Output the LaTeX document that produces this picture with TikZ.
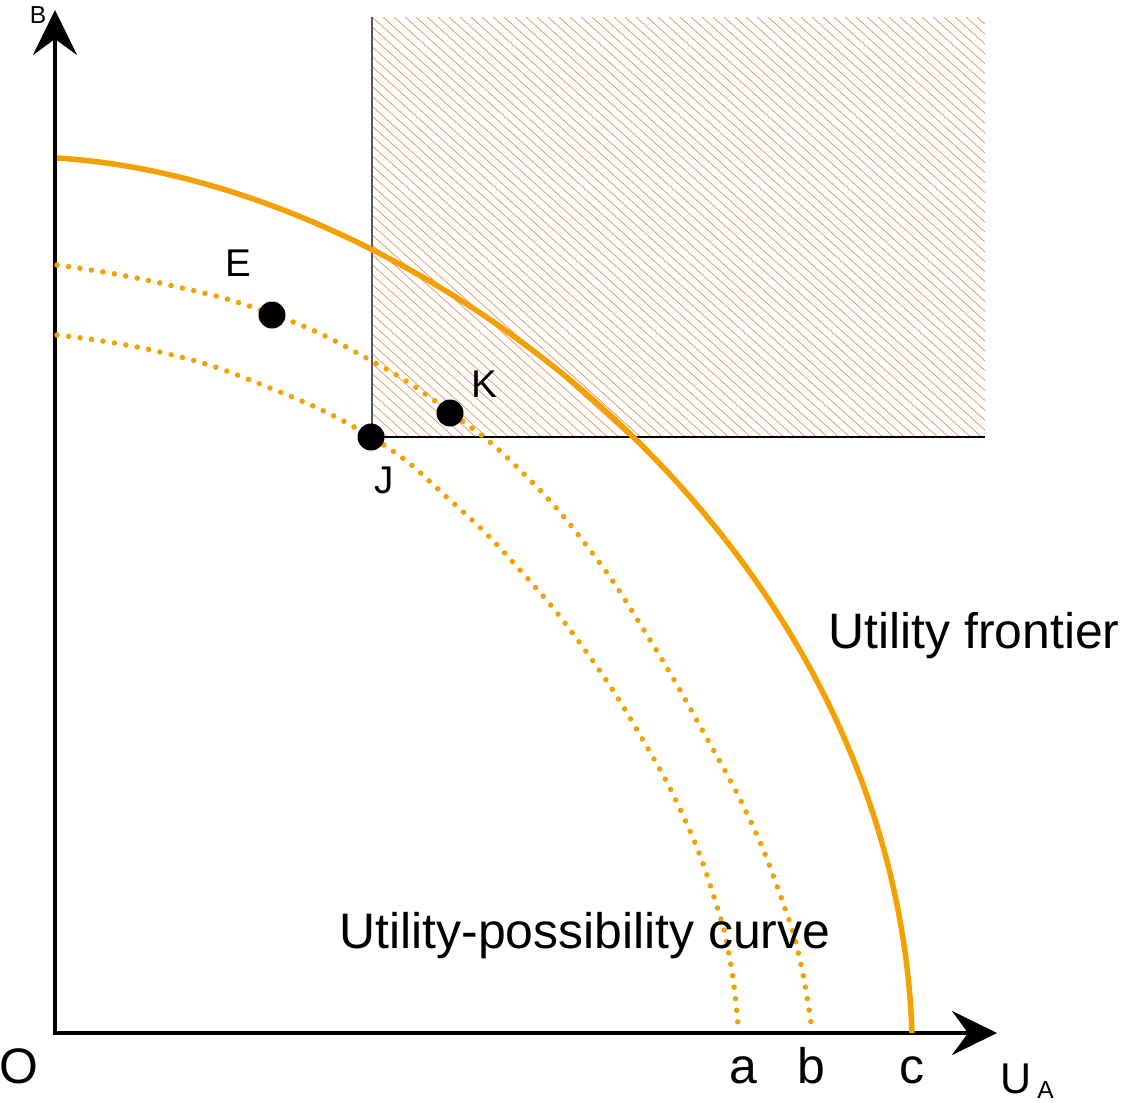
\documentclass[tikz,border=0pt]{standalone}
\usepackage{fontspec}
\setmainfont{Liberation Sans}
\usepackage{tikz}
\usetikzlibrary{arrows.meta}
\usepackage{xcolor}
\definecolor{curvecolor}{RGB}{243, 160, 0}
\definecolor{hatchcolor}{RGB}{232, 145, 95}

\begin{document}
\begin{tikzpicture}[x=0.02cm, y=-0.02cm,
    axis/.style={line width=0.08cm, line join=miter,
                 {Stealth[length=0.9cm, width=0.88cm, inset=0.32cm]}-{Stealth[length=0.9cm, width=0.88cm, inset=0.32cm]}},
    frontier/.style={curvecolor, line width=0.11cm},
    possible/.style={curvecolor, line width=0.11cm, line cap=round, dash pattern=on 0pt off 6.6pt},
    hatch/.style={hatchcolor, line width=0.4pt},
    pt/.style={circle, fill=black, inner sep=0pt, minimum size=0.54cm},
    biglabel/.style={inner sep=0pt, anchor=base, font=\fontsize{28.4}{30}\selectfont},
    ptlabel/.style={inner sep=0pt, anchor=base, font=\fontsize{22}{24}\selectfont}
]
\useasboundingbox (0,0) rectangle (1121,1102);

% Hatched region
\begin{scope}
  \clip (372,17) rectangle (985,437);
  \foreach \i in {-45,...,57}
    \draw[hatch] ({372+\i*11},17) -- ++(500,450);
\end{scope}
\coordinate (rtop) at (372,17);
\coordinate (rcorner) at (372,437);
\coordinate (rright) at (985,437);
\draw[gray!70!black, line width=0.6pt] (rtop) -- (rcorner);
\draw[black, line width=0.9pt] (rcorner) -- (rright);

% Axes
\coordinate (ytip) at (55,10);
\coordinate (O) at (55,1033);
\coordinate (xtip) at (997,1033);
\draw[axis] (ytip) -- (O) -- (xtip);

% Utility frontier
\coordinate (fstart) at (57,158);
\coordinate (fend) at (912,1033);
\draw[frontier] (fstart) .. controls (420,180) and (895,540) .. (fend);

% Utility-possibility curves
\draw[possible] plot[smooth, tension=0.8] coordinates {
  (57,265) (160,283) (272,314) (370,360) (450,412) (520,470)
  (590,550) (650,640) (705,735) (750,820) (782,900) (800,960) (812,1030)};
\draw[possible] plot[smooth, tension=0.8] coordinates {
  (57,335) (160,352) (260,384) (371,437) (450,500) (520,570)
  (585,650) (640,735) (685,820) (715,900) (730,960) (738,1025)};

% Points
\node[pt] (ptE) at (272,315) {};
\node[pt] (ptK) at (450,413) {};
\node[pt] (ptJ) at (371,437) {};
\node[ptlabel] (labE) at (238,276) {E};
\node[ptlabel] (labK) at (484,397) {K};
\node[ptlabel] (labJ) at (384,493) {J};

% Labels
\node[biglabel] (frontierlab) at (974,648) {Utility frontier};
\node[biglabel] (curvelab) at (585,948) {Utility-possibility curve};
\node[biglabel] (labO) at (19,1083) {O};
\node[biglabel] (laba) at (743,1083) {a};
\node[biglabel] (labb) at (811,1083) {b};
\node[biglabel] (labc) at (912,1083) {c};
\node[inner sep=0pt, anchor=base west] (labUA) at (1000,1093)
  {\fontsize{24.5}{26}\selectfont U\hspace{0.12cm}\raisebox{-0.1cm}{\fontsize{14}{16}\selectfont A}};
\node[inner sep=0pt, anchor=base, font=\fontsize{14}{16}\selectfont] (labB) at (38,23) {B};

\end{tikzpicture}
\end{document}
